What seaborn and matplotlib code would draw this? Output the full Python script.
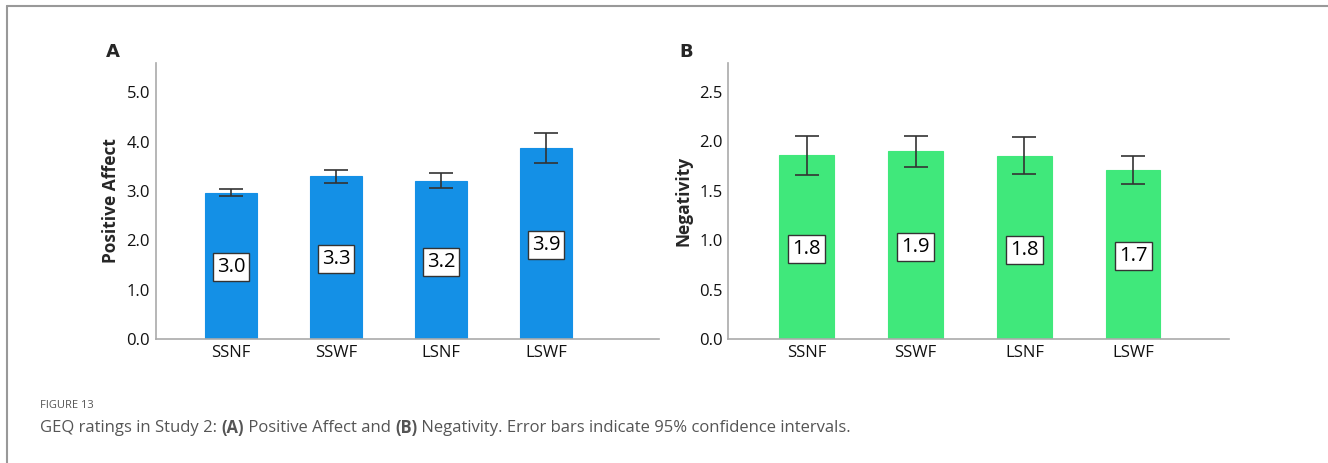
import matplotlib
matplotlib.use("Agg")
import matplotlib.pyplot as plt
import seaborn as sns
import numpy as np
import pandas as pd

categories = ["SSNF", "SSWF", "LSNF", "LSWF"]
pos_mean = [2.96, 3.30, 3.20, 3.87]
pos_lo = [2.90, 3.16, 3.06, 3.56]
pos_hi = [3.04, 3.43, 3.36, 4.18]
pos_labels = ["3.0", "3.3", "3.2", "3.9"]

neg_mean = [1.86, 1.90, 1.85, 1.71]
neg_lo = [1.66, 1.74, 1.67, 1.57]
neg_hi = [2.06, 2.06, 2.04, 1.85]
neg_labels = ["1.8", "1.9", "1.8", "1.7"]

sns.set_theme(style="white")
plt.rcParams["font.family"] = ["Open Sans", "DejaVu Sans"]

fig = plt.figure(figsize=(13.28, 4.63), dpi=100)
axA = fig.add_axes([0.1172, 0.2678, 0.3790, 0.5961])
axB = fig.add_axes([0.5484, 0.2671, 0.3771, 0.5962])


def panel(ax, means, lo, hi, labels, color, ylabel, ymax, ticks, xlim):
    df = pd.DataFrame({"cat": categories, "val": means})
    sns.barplot(data=df, x="cat", y="val", color=color, width=0.5, ax=ax,
                saturation=1, edgecolor=color, linewidth=0.8)
    x = np.arange(len(categories))
    m = np.array(means)
    yerr = np.vstack([m - np.array(lo), np.array(hi) - m])
    ax.errorbar(x, m, yerr=yerr, fmt="none", ecolor="#333333",
                elinewidth=1.2, capsize=8.5, capthick=1.2)
    for xi, mv, lab in zip(x, m, labels):
        ax.text(xi, mv * 0.49, lab, ha="center", va="center", fontsize=14.5,
                color="black",
                bbox=dict(boxstyle="square,pad=0.2", fc="white",
                          ec="#333333", lw=1.0))
    ax.set_ylim(0, ymax)
    ax.set_xlim(*xlim)
    ax.set_yticks(ticks)
    ax.set_yticklabels([f"{t:.1f}" for t in ticks])
    ax.set_xlabel("")
    ax.set_ylabel(ylabel, fontsize=12.5, fontweight="bold", labelpad=5)
    for s in ["top", "right"]:
        ax.spines[s].set_visible(False)
    for s in ["left", "bottom"]:
        ax.spines[s].set_color("#aaaaaa")
        ax.spines[s].set_linewidth(1.2)
    ax.tick_params(axis="both", length=0, labelsize=12, colors="#111111",
                   pad=4)


panel(axA, pos_mean, pos_lo, pos_hi, pos_labels, "#1490e6",
      "Positive Affect", 5.59, [0, 1, 2, 3, 4, 5], (-0.717, 4.076))
panel(axB, neg_mean, neg_lo, neg_hi, neg_labels, "#40e87b",
      "Negativity", 2.79, [0, 0.5, 1.0, 1.5, 2.0, 2.5], (-0.72, 3.88))

fig.text(113 / 1328, 1 - 52 / 463, "A", fontsize=13, fontweight="bold",
         ha="center", va="center", family=["DejaVu Sans"])
fig.text(686 / 1328, 1 - 52 / 463, "B", fontsize=13, fontweight="bold",
         ha="center", va="center", family=["DejaVu Sans"])

fig.text(40 / 1328, 1 - 405 / 463, "FIGURE 13", fontsize=8,
         color="#555555", ha="left", va="center")
cap_y = 1 - 428 / 463
cap_fs = 12
t1 = fig.text(40 / 1328, cap_y, "GEQ ratings in Study 2: ", fontsize=cap_fs,
              color="#555555", ha="left", va="center")
fig.canvas.draw()
r = fig.canvas.get_renderer()
parts = [("(A)", True), (" Positive Affect and ", False), ("(B)", True),
         (" Negativity. Error bars indicate 95% confidence intervals.", False)]
prev = t1
for txt, bold in parts:
    bb = prev.get_window_extent(renderer=r)
    x0 = bb.x1 / fig.bbox.width
    prev = fig.text(x0, cap_y, txt, fontsize=cap_fs, color="#555555",
                    ha="left", va="center",
                    fontweight="bold" if bold else "normal")
    fig.canvas.draw()

# frame lines (left and top)
fig.add_artist(plt.Line2D([6.5 / 1328, 6.5 / 1328], [0, 1 - 5.5 / 463],
                          color="#999999", lw=1.5, transform=fig.transFigure))
fig.add_artist(plt.Line2D([6.5 / 1328, 1], [1 - 5.5 / 463, 1 - 5.5 / 463],
                          color="#999999", lw=1.5, transform=fig.transFigure))

fig.savefig("out.png", dpi=100)
